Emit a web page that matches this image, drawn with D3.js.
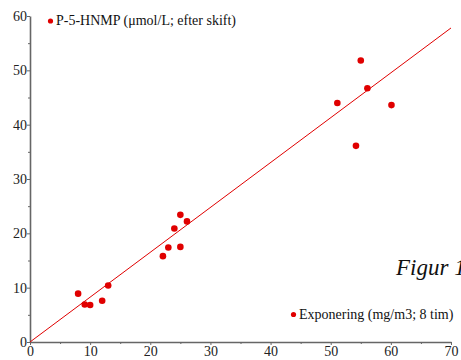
<!DOCTYPE html>
<html>
<head>
<meta charset="utf-8">
<script src="https://cdn.jsdelivr.net/npm/d3@7"></script>
<style>
  body { margin: 0; background: #fff; }
  svg { display: block; }
  svg text { font-family: "Times New Roman", "Liberation Serif", Times, "DejaVu Serif", serif; }
</style>
</head>
<body>
<svg id="chart" width="461" height="360"></svg>
<script>
// exposure (mg/m3) vs P-5-HNMP (umol/L)
var exponering = [8, 9.1, 10, 12, 13, 22.1, 23, 24, 25, 25, 26.1, 51.1, 54.2, 55, 56.1, 60.1];
var hnmp = [8.9, 6.9, 6.8, 7.6, 10.4, 15.8, 17.4, 20.9, 23.4, 17.5, 22.2, 44.0, 36.1, 51.8, 46.7, 43.6];
var fitLine = [[0, 0], [70, 57.8]];
var xTicks = [0, 10, 20, 30, 40, 50, 60, 70];
var yTicks = [0, 10, 20, 30, 40, 50, 60];

var svg = d3.select('svg#chart');
var red = "#e00000", axisCol = "#666";

var x = d3.scaleLinear().domain([0, 70]).range([30, 451]);
var y = d3.scaleLinear().domain([0, 60]).range([342, 16]);

// minor ticks
svg.append("g")
  .attr("transform", "translate(0,342)")
  .call(d3.axisBottom(x).tickValues(d3.range(5, 70, 10)).tickSize(2).tickFormat(""))
  .call(g => g.select(".domain").remove())
  .selectAll("line").attr("stroke", axisCol);
svg.append("g")
  .attr("transform", "translate(30,0)")
  .call(d3.axisLeft(y).tickValues(d3.range(5, 60, 10)).tickSize(2).tickFormat(""))
  .call(g => g.select(".domain").remove())
  .selectAll("line").attr("stroke", axisCol);

var xAxis = svg.append("g")
  .attr("transform", "translate(0,342)")
  .call(d3.axisBottom(x).tickValues(xTicks).tickSizeInner(3).tickSizeOuter(0).tickPadding(1));
var yAxis = svg.append("g")
  .attr("transform", "translate(30,0)")
  .call(d3.axisLeft(y).tickValues(yTicks).tickSizeInner(3).tickSizeOuter(0).tickPadding(0));

[xAxis, yAxis].forEach(function(a) {
  a.attr("font-family", null).attr("font-size", null);
  a.select(".domain").attr("stroke", axisCol).attr("stroke-width", 1.6);
  a.selectAll(".tick line").attr("stroke", axisCol);
  a.selectAll("text").style("font-size", "14px").attr("fill", "#222");
});

// regression line
svg.append("line")
  .attr("x1", x(fitLine[0][0])).attr("y1", y(fitLine[0][1]))
  .attr("x2", x(fitLine[1][0])).attr("y2", y(fitLine[1][1]))
  .attr("stroke", red).attr("stroke-width", 1);

svg.selectAll("circle.pt")
  .data(exponering)
  .enter().append("circle")
  .attr("class", "pt")
  .attr("cx", d => x(d))
  .attr("cy", (d, i) => y(hnmp[i]))
  .attr("r", 3.3)
  .attr("fill", red);

// axis legends
svg.append("circle").attr("cx", 50.5).attr("cy", 21).attr("r", 2.6).attr("fill", red);
svg.append("text").attr("x", 56).attr("y", 25)
  .style("font-size", "14px").attr("fill", "#111")
  .text("P-5-HNMP (μmol/L; efter skift)");

svg.append("circle").attr("cx", 293.5).attr("cy", 314.5).attr("r", 2.6).attr("fill", red);
svg.append("text").attr("x", 299).attr("y", 319)
  .style("font-size", "14px").attr("fill", "#111")
  .text("Exponering (mg/m3; 8 tim)");

svg.append("text").attr("x", 396).attr("y", 275)
  .style("font-size", "23px").style("font-style", "italic").attr("fill", "#111")
  .text("Figur 1");
</script>
</body>
</html>
